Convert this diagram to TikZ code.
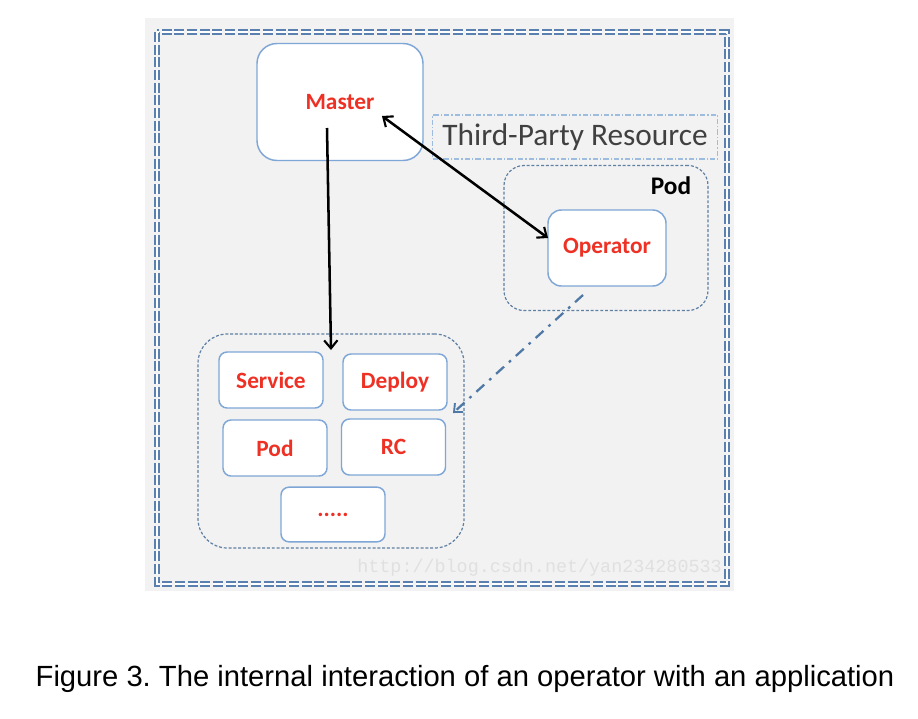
\documentclass[tikz,border=0pt]{standalone}
\usepackage{fontspec}
\setmainfont{Carlito}
\newfontfamily\capfont{Liberation Sans}
\newfontfamily\wmfont{Liberation Mono}
\usetikzlibrary{arrows.meta}
\definecolor{bg}{HTML}{F2F2F2}
\definecolor{boxline}{HTML}{7EA6D6}
\definecolor{grpline}{HTML}{5F7FA3}
\definecolor{outerline}{HTML}{5A80B0}
\definecolor{redtxt}{HTML}{EE3124}
\definecolor{tpline}{HTML}{9DBCE0}
\definecolor{arrowblue}{HTML}{4F78A6}
\definecolor{tptxt}{HTML}{404040}
\tikzset{
  objbox/.style={draw=boxline, line width=1.1pt, fill=white, rounded corners=6pt,
     minimum width=78pt, minimum height=42pt, text=redtxt, font=\bfseries\fontsize{17.5}{19}\selectfont},
  grpbox/.style={draw=grpline, line width=0.9pt, dashed, dash pattern=on 2.2pt off 1.4pt},
  blackarrow/.style={line width=1.9pt, black, -{Straight Barb[length=6pt,width=10pt,line width=1.6pt]}},
}
\begin{document}
\frenchspacing
\begin{tikzpicture}[x=0.75pt,y=-0.75pt]
\useasboundingbox (0,0) rectangle (918,718);
% gray panel
\fill[bg] (145,18) rectangle (734,591);
% outer double dashed border
\draw[outerline, double=white, double distance=1.2pt, line width=1.5pt, dash pattern=on 7.5pt off 2pt] (157,32) rectangle (727,584);
% watermark
\node[text=black!12, font=\wmfont\fontsize{13.8}{15}\selectfont, anchor=east, inner sep=0pt] (wm) at (722,568) {http://blog.csdn.net/yan234280533};
% groups
\node[grpbox, rounded corners=15pt, minimum width=153pt, minimum height=108.75pt] (podgrp) at (606,238) {};
\node[grpbox, rounded corners=22pt, minimum width=199.5pt, minimum height=160.5pt] (appgrp) at (331,441) {};
% third party resource
\node[draw=tpline, line width=0.9pt, dash pattern=on 4pt off 1.5pt on 1pt off 1.5pt, minimum width=213.75pt, minimum height=33pt,
      text=tptxt, font=\fontsize{23.5}{26}\selectfont] (tpr) at (575,137) {Third-Party Resource};
% master
\node[objbox, rounded corners=15pt, minimum width=124.5pt, minimum height=87.75pt] (master) at (340,102) {Master};
% operator
\node[objbox, rounded corners=10pt, minimum width=88.5pt, minimum height=57pt] (operator) at (607,248) {Operator};
\node[font=\bfseries\fontsize{19}{21}\selectfont, text=black] (podlbl) at (671,186) {Pod};
% app objects
\node[objbox] (service) at (271,380) {Service};
\node[objbox] (deploy) at (395,382) {Deploy};
\node[objbox] (pod) at (275,448) {Pod};
\node[objbox] (rc) at (393.5,447) {RC};
\node[objbox, minimum height=41pt] (dots) at (333,514.5) {.....};
% caption
\node[font=\capfont\fontsize{21.9}{26}\selectfont, text=black] (cap) at (465,679) {Figure 3. The internal interaction of an operator with an application};
% connectors
\coordinate (mdown) at (327,128);
\coordinate (appin) at (331,350);
\draw[blackarrow] (mdown) -- (appin);
\coordinate (mtip) at (382,116);
\coordinate (otip) at (548,238);
\draw[blackarrow, {Straight Barb[length=6pt,width=10pt,line width=1.6pt]}-{Straight Barb[length=6pt,width=10pt,line width=1.6pt]}] (mtip) -- (otip);
\coordinate (opout) at (583,295);
\coordinate (appright) at (453,413);
\draw[arrowblue, line width=1.7pt, dash pattern=on 8pt off 5pt on 2pt off 5pt, -{Straight Barb[length=5pt,width=9pt,line width=1.4pt]}] (opout) -- (appright);
\end{tikzpicture}
\end{document}
